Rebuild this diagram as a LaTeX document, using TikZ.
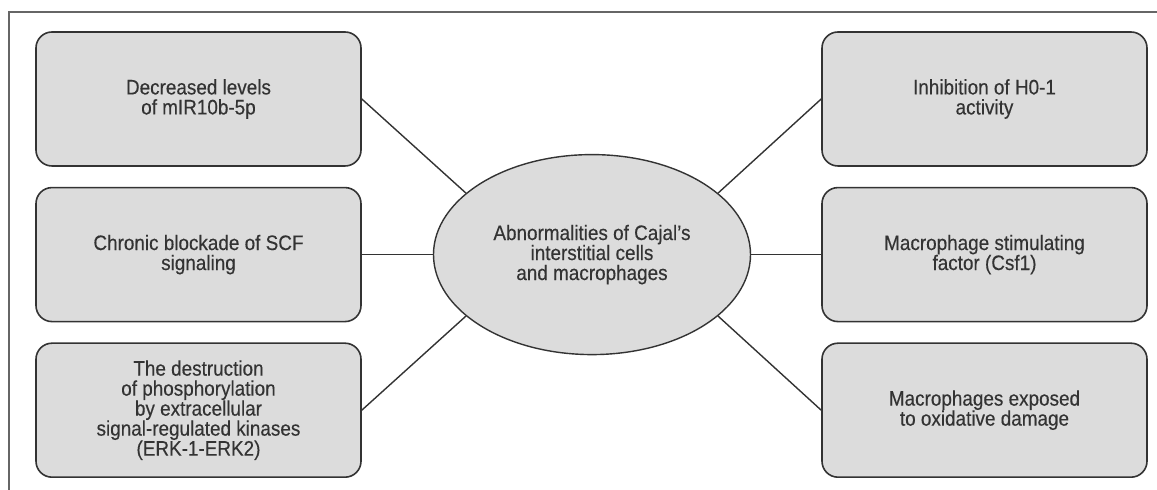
\documentclass[tikz,border=0pt]{standalone}
\usepackage{fontspec}
\setmainfont{Liberation Sans}[FakeStretch=0.9,FakeBold=0.3]
\usetikzlibrary{positioning,shapes.geometric}
\definecolor{boxfill}{HTML}{DCDCDC}
\definecolor{boxline}{HTML}{333333}
\definecolor{framegray}{HTML}{666666}
\tikzset{
  factor/.style={draw=boxline,line width=0.8pt,fill=boxfill,rounded corners=8pt,
    minimum width=162.5pt,minimum height=67pt,align=center,inner sep=2pt,
    text=boxline,font=\fontsize{10.5pt}{10pt}\selectfont},
  hub/.style={ellipse,draw=boxline,line width=0.7pt,fill=boxfill,
    minimum width=158.5pt,minimum height=100pt,align=center,inner sep=0pt,
    text=boxline,font=\fontsize{10.5pt}{10pt}\selectfont},
  link/.style={draw=boxline,line width=0.7pt}
}
\begin{document}
\begin{tikzpicture}
                \useasboundingbox (0pt,0pt) rectangle (578.5pt,-245pt);
                \draw[framegray,line width=0.6pt] (4.5pt,-245pt) coordinate (fb) -- (4.5pt,-6pt) coordinate (fc) -- (578.5pt,-6pt) coordinate (fr);

                \path (99.25pt,-49.5pt) node[factor] (B1) {Decreased levels\\of mIR10b-5p};
                \path node[factor,below=10pt of B1] (B2) {Chronic blockade of SCF\\signaling};
                \path node[factor,below=10pt of B2] (B3) {The destruction\\of phosphorylation\\by extracellular\\signal-regulated kinases\\(ERK-1-ERK2)};
                \path node[hub,right=35.5pt of B2] (H) {Abnormalities of Cajal's\\interstitial cells\\and macrophages};
                \path node[factor,right=35pt of H] (B5) {Macrophage stimulating\\factor (Csf1)};
                \path node[factor,above=10pt of B5] (B4) {Inhibition of H0-1\\activity};
                \path node[factor,below=10pt of B5] (B6) {Macrophages exposed\\to oxidative damage};

                \draw[link] (B1.east) -- (H.154);
                \draw[link] (B2.east) -- (H.west);
                \draw[link] (B3.east) -- (H.206);
                \draw[link] (H.26) -- (B4.west);
                \draw[link] (H.east) -- (B5.west);
                \draw[link] (H.334) -- (B6.west);
              \end{tikzpicture}
\end{document}
